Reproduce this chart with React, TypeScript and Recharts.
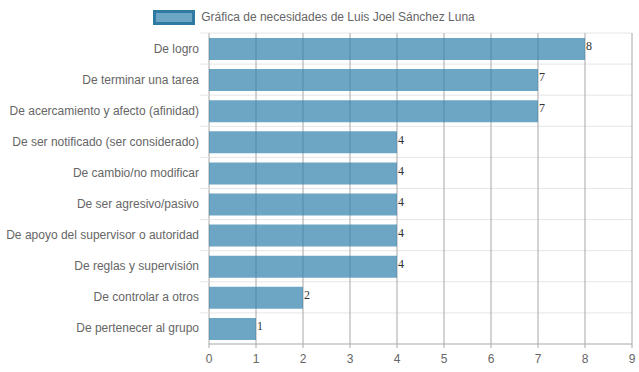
import React from "react";
import { BarChart, Bar, XAxis, YAxis, CartesianGrid, Legend, LabelList } from "recharts";

const categories = [
  "De logro",
  "De terminar una tarea",
  "De acercamiento y afecto (afinidad)",
  "De ser notificado (ser considerado)",
  "De cambio/no modificar",
  "De ser agresivo/pasivo",
  "De apoyo del supervisor o autoridad",
  "De reglas y supervisión",
  "De controlar a otros",
  "De pertenecer al grupo",
];
const values = [8, 7, 7, 4, 4, 4, 4, 4, 2, 1];
const xTicks = [0, 1, 2, 3, 4, 5, 6, 7, 8, 9];
const seriesName = "Gráfica de necesidades de Luis Joel Sánchez Luna";

const data = categories.map((name, i) => ({ name, value: values[i] }));

const FONT = "'Liberation Sans', Arial, Helvetica, sans-serif";

const YTick = (props: any) => {
  const { x, y, payload } = props;
  const half = payload && payload.offset ? payload.offset : 15.55;
  return (
    <g>
      <line x1={x + 1} x2={x + 10} y1={y - half} y2={y - half} stroke="#e6e6e6" />
      <text x={x} y={y} textAnchor="end" dominantBaseline="central" fill="#666" fontSize={12} fontFamily={FONT}>
        {payload.value}
      </text>
    </g>
  );
};

const LegendContent = () => (
  <div style={{ display: "flex", justifyContent: "center", alignItems: "center", height: 20, fontFamily: FONT, fontSize: 12, color: "#666", paddingRight: 4 }}>
    <span style={{ display: "inline-block", width: 36, height: 9, background: "rgba(45,128,171,0.7)", border: "3px solid #2f7aa3", marginRight: 6 }} />
    <span>{seriesName}</span>
  </div>
);

export default function App() {
  return (
    <div style={{ position: "absolute", left: 0, top: 0, background: "#fff" }}>
      <BarChart
        width={639}
        height={372}
        data={data}
        layout="vertical"
        margin={{ top: 7, right: 7, bottom: 8, left: 0 }}
      >
        <Legend verticalAlign="top" align="center" height={26} content={<LegendContent />} />
        <CartesianGrid
          vertical={false}
          stroke="#e6e6e6"
          horizontalCoordinatesGenerator={({ offset }: any) =>
            categories.map((_, i) => offset.top + (i * offset.height) / categories.length)
          }
        />
        <CartesianGrid horizontal={false} stroke="#a8a8a8" />
        <XAxis
          type="number"
          domain={[0, 9]}
          ticks={xTicks}
          interval={0}
          height={20}
          stroke="#a8a8a8"
          tickSize={4}
          tickMargin={6}
          tick={{ fill: "#666", fontSize: 12, fontFamily: FONT }}
        />
        <YAxis
          type="category"
          dataKey="name"
          width={209}
          axisLine={false}
          tickLine={false}
          tickSize={0}
          tickMargin={10}
          interval={0}
          tick={<YTick />}
        />
        <Bar dataKey="value" name={seriesName} fill="#2d80ab" fillOpacity={0.7} barSize={22} isAnimationActive={false}>
          <LabelList dataKey="value" position="right" offset={1} dy={-3} fill="#333" fontSize={12} fontFamily="'Liberation Serif', 'Times New Roman', serif" />
        </Bar>
      </BarChart>
    </div>
  );
}
